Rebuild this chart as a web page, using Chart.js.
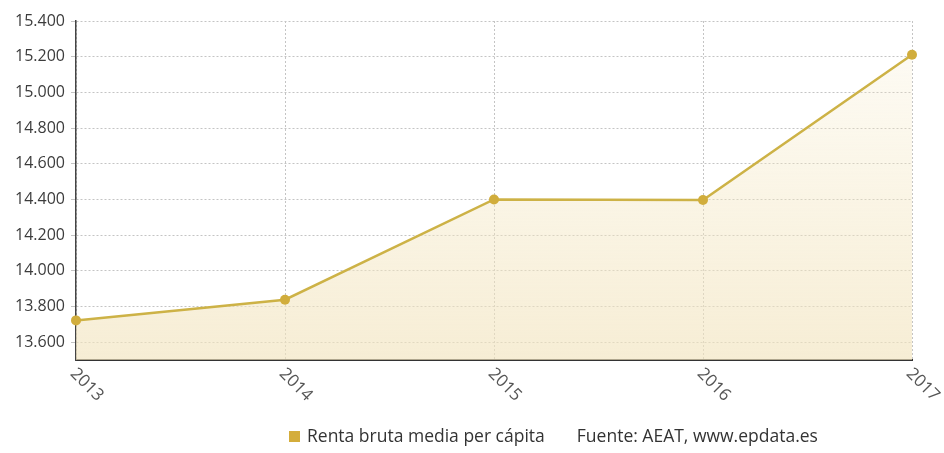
<!DOCTYPE html>
<html>
<head>
<meta charset="utf-8">
<script src="https://cdn.jsdelivr.net/npm/chart.js@4"></script>
<style>
  body { margin: 0; background: #fff; }
  #wrap { position: relative; width: 944px; height: 453px; }
  #legend {
    position: absolute; left: 289px; top: 423px;
    font-family: "Open Sans", sans-serif; font-size: 17.5px; color: #333;
    white-space: nowrap;
  }
  #legend .box { display: inline-block; width: 11px; height: 11px; background: #d4ad3b; margin-right: 7px; }
  #legend .src { margin-left: 32px; }
</style>
</head>
<body>
<div id="wrap">
  <canvas id="chart" width="944" height="453"></canvas>
  <div id="legend"><span class="box"></span>Renta bruta media per cápita<span class="src">Fuente: AEAT, www.epdata.es</span></div>
</div>
<script>
// datos
const years = ["2013", "2014", "2015", "2016", "2017"];
const renta = [13722, 13838, 14400, 14397, 15211];
const yTicks = [13600, 13800, 14000, 14200, 14400, 14600, 14800, 15000, 15200, 15400];

// etiquetas del eje X giradas 45° hacia abajo
const xLabels = {
  id: "xLabels",
  afterDraw(chart) {
    const ctx = chart.ctx;
    const x = chart.scales.x;
    const bottom = chart.chartArea.bottom;
    ctx.save();
    ctx.font = '17px "Open Sans", sans-serif';
    ctx.fillStyle = "#555";
    ctx.textAlign = "left";
    ctx.textBaseline = "middle";
    years.forEach((y, i) => {
      ctx.save();
      ctx.translate(x.getPixelForValue(i) - 3, bottom + 11);
      ctx.rotate(Math.PI / 4);
      ctx.fillText(y, 0, 0);
      ctx.restore();
    });
    ctx.restore();
  },
};

const ctx = document.getElementById("chart").getContext("2d");
new Chart(ctx, {
  type: "line",
  data: {
    labels: years,
    datasets: [
      {
        label: "Renta bruta media per cápita",
        data: renta,
        borderColor: "#cdb246",
        borderWidth: 2.5,
        pointRadius: 5,
        pointBackgroundColor: "#d1ad3c",
        pointBorderColor: "#d1ad3c",
        pointBorderWidth: 0,
        tension: 0,
        fill: "start",
        backgroundColor: function (c) {
          const area = c.chart.chartArea;
          if (!area) return "rgba(240,225,180,0.3)";
          const g = c.chart.ctx.createLinearGradient(0, area.top, 0, area.bottom);
          g.addColorStop(0, "rgba(245,232,195,0.15)");
          g.addColorStop(1, "rgba(242,228,190,0.65)");
          return g;
        },
      },
    ],
  },
  options: {
    responsive: false,
    animation: false,
    layout: { padding: { top: 21, right: 32, bottom: 0, left: 0 } },
    plugins: {
      legend: { display: false },
      tooltip: { enabled: false },
    },
    scales: {
      x: {
        offset: false,
        ticks: { display: false },
        grid: {
          color: "#c4c4c4",
          tickLength: 0,
          drawTicks: false,
        },
        border: { display: true, color: "#333", width: 2, dash: [2, 2] },
        afterFit: function (scale) {
          scale.height = 93;
        },
      },
      y: {
        min: 13500,
        max: 15400,
        afterBuildTicks: function (scale) {
          scale.ticks = yTicks.map((v) => ({ value: v }));
        },
        ticks: {
          color: "#3c3c3c",
          font: { family: "Open Sans", size: 16 },
          padding: 6,
          callback: function (value) {
            return value.toLocaleString("de-DE");
          },
        },
        grid: {
          color: "#c4c4c4",
          tickLength: 5,
        },
        border: { color: "#444", width: 1.5, dash: [2, 2] },
        afterFit: function (scale) {
          scale.width = 76;
        },
      },
    },
  },
  plugins: [xLabels],
});
</script>
</body>
</html>
